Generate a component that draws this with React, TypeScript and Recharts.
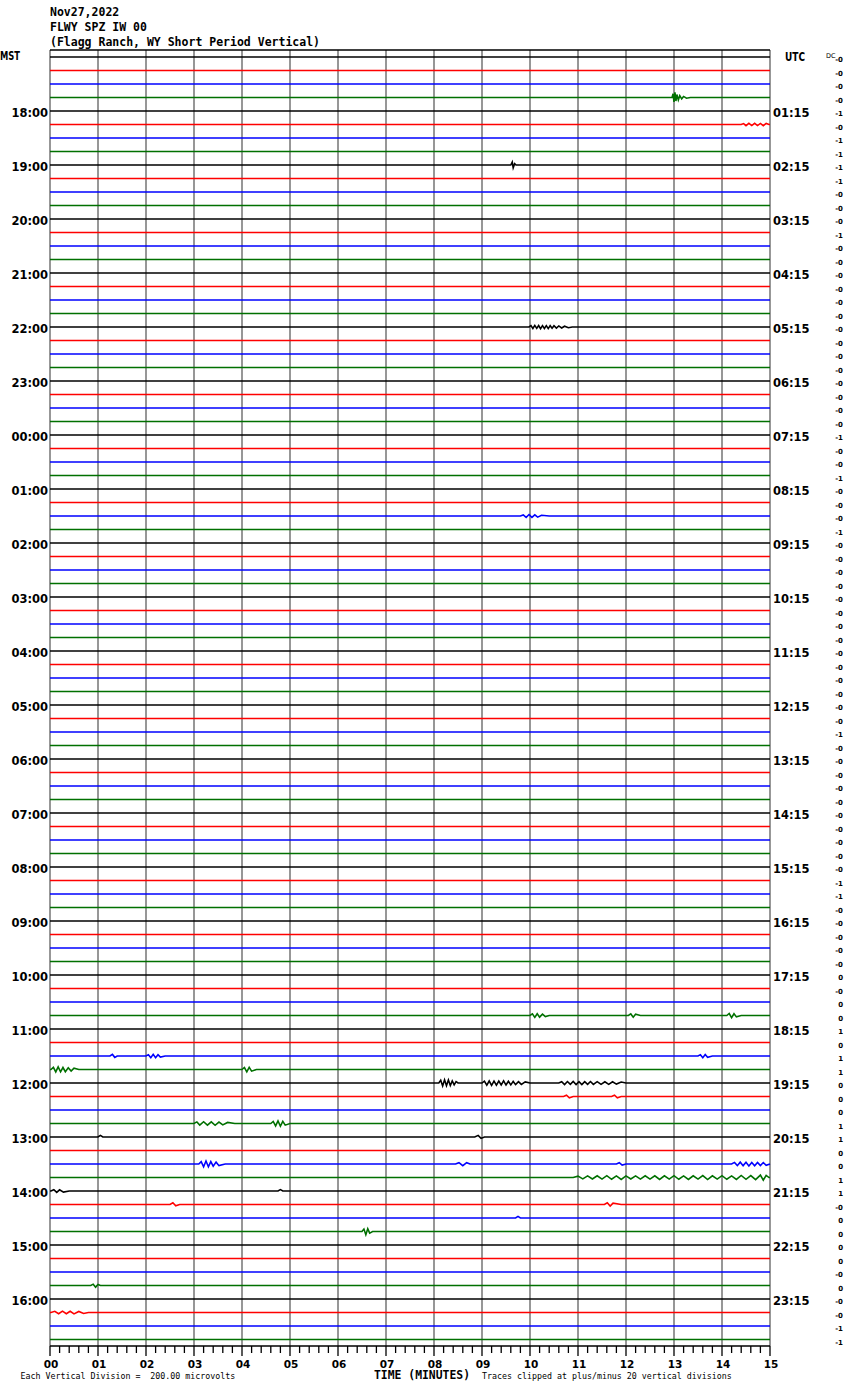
import { Line, LineChart, ReferenceLine, XAxis, YAxis } from "recharts";

// helicorder: 96 rows of 15 minutes, 24 h starting 17:00 MST
const TITLE_LINES = ["Nov27,2022", "FLWY SPZ IW 00", "(Flagg Ranch, WY Short Period Vertical)"];

const MST_LABELS = [
  "MST", "18:00", "19:00", "20:00", "21:00", "22:00", "23:00", "00:00", "01:00", "02:00", "03:00", "04:00",
  "05:00", "06:00", "07:00", "08:00", "09:00", "10:00", "11:00", "12:00", "13:00", "14:00", "15:00", "16:00",
];

const UTC_LABELS = [
  "UTC", "01:15", "02:15", "03:15", "04:15", "05:15", "06:15", "07:15", "08:15", "09:15", "10:15", "11:15",
  "12:15", "13:15", "14:15", "15:15", "16:15", "17:15", "18:15", "19:15", "20:15", "21:15", "22:15", "23:15",
];

// DC offsets printed on the far right, one per row
const DC_VALUES = [
  "-0", "-0", "-0", "-0", "-1", "-0", "-1", "-1", "-1", "-1", "-0", "-0",
  "-0", "-1", "-0", "-0", "-0", "-0", "-0", "-0", "-0", "-0", "-0", "-0",
  "-0", "-0", "-0", "-0", "-1", "-0", "-0", "-1", "-0", "-0", "-0", "-1",
  "-0", "-0", "-0", "-0", "-0", "-0", "-0", "-0", "-0", "-0", "-0", "-0",
  "-0", "-0", "-1", "-0", "-0", "-0", "-0", "-0", "-0", "-0", "-0", "-0",
  "-0", "-1", "-1", "-0", "-0", "-0", "-0", "-0", "0", "-0", "0", "0",
  "1", "0", "1", "1", "0", "0", "0", "1", "1", "0", "0", "1",
  "1", "-0", "0", "0", "0", "0", "-0", "0", "-0", "-0", "-1", "-1",
];

const MINUTE_LABELS = ["00", "01", "02", "03", "04", "05", "06", "07", "08", "09", "10", "11", "12", "13", "14", "15"];

const TRACE_COLORS = ["#000000", "#ff0000", "#0000ff", "#007000"];

// visible wiggles: [minute, amplitude in vertical rows]
const EVENTS: { row: number; points: [number, number][] }[] = [
  { row: 3, points: [[12.96, 0], [12.98, 0.28], [13.0, -0.32], [13.02, 0.38], [13.04, -0.26], [13.06, 0.22], [13.09, -0.18], [13.12, 0.14], [13.16, -0.1], [13.2, 0.08], [13.26, -0.05], [13.34, 0]] },
  { row: 5, points: [[14.4, 0], [14.45, 0.07], [14.5, -0.08], [14.56, 0.09], [14.62, -0.08], [14.68, 0.09], [14.74, -0.08], [14.8, 0.08], [14.86, -0.09], [14.92, 0.08], [14.98, 0]] },
  { row: 8, points: [[9.6, 0], [9.63, 0.22], [9.65, -0.2], [9.68, 0.1], [9.71, 0]] },
  { row: 20, points: [[9.98, 0], [10.02, 0.1], [10.06, -0.11], [10.1, 0.12], [10.14, -0.1], [10.18, 0.11], [10.22, -0.12], [10.26, 0.1], [10.3, -0.11], [10.34, 0.1], [10.38, -0.12], [10.42, 0.1], [10.46, -0.09], [10.5, 0.1], [10.55, -0.08], [10.6, 0.08], [10.66, -0.07], [10.72, 0.06], [10.8, -0.05], [10.88, 0]] },
  { row: 34, points: [[9.8, 0], [9.86, 0.08], [9.92, -0.1], [9.98, 0.11], [10.04, -0.1], [10.1, 0.09], [10.16, -0.08], [10.24, 0.06], [10.4, 0]] },
  { row: 71, points: [[10.0, 0], [10.05, 0.12], [10.1, -0.14], [10.15, 0.13], [10.2, -0.12], [10.26, 0.1], [10.32, -0.08], [10.4, 0]] },
  { row: 71, points: [[12.05, 0], [12.1, 0.12], [12.15, -0.12], [12.2, 0.1], [12.3, 0]] },
  { row: 71, points: [[14.1, 0], [14.15, 0.15], [14.2, -0.16], [14.25, 0.13], [14.3, -0.1], [14.4, 0]] },
  { row: 74, points: [[1.25, 0], [1.3, 0.12], [1.35, -0.1], [1.4, 0]] },
  { row: 74, points: [[2.0, 0], [2.05, 0.1], [2.1, -0.12], [2.15, 0.13], [2.2, -0.12], [2.25, 0.1], [2.3, -0.08], [2.4, 0]] },
  { row: 74, points: [[13.5, 0], [13.55, 0.1], [13.6, -0.12], [13.65, 0.11], [13.7, -0.1], [13.8, 0]] },
  { row: 75, points: [[0.02, 0], [0.07, 0.16], [0.12, -0.18], [0.17, 0.2], [0.22, -0.17], [0.27, 0.15], [0.32, -0.16], [0.38, 0.13], [0.44, -0.12], [0.5, 0.1], [0.6, 0]] },
  { row: 75, points: [[4.0, 0], [4.05, 0.15], [4.1, -0.17], [4.15, 0.16], [4.2, -0.12], [4.3, 0]] },
  { row: 76, points: [[8.1, 0], [8.14, 0.2], [8.18, -0.22], [8.22, 0.24], [8.26, -0.2], [8.3, 0.22], [8.34, -0.18], [8.38, 0.16], [8.42, -0.14], [8.46, 0.1], [8.5, 0]] },
  { row: 76, points: [[9.0, 0], [9.05, 0.14], [9.1, -0.16], [9.15, 0.15], [9.2, -0.17], [9.25, 0.14], [9.3, -0.16], [9.35, 0.15], [9.4, -0.14], [9.45, 0.16], [9.5, -0.15], [9.55, 0.13], [9.6, -0.14], [9.65, 0.12], [9.7, -0.12], [9.76, 0.1], [9.82, -0.1], [9.9, 0.08], [10.0, 0]] },
  { row: 76, points: [[10.6, 0], [10.66, 0.1], [10.72, -0.12], [10.78, 0.11], [10.84, -0.1], [10.9, 0.12], [10.96, -0.11], [11.02, 0.1], [11.08, -0.12], [11.14, 0.1], [11.2, -0.1], [11.26, 0.11], [11.32, -0.1], [11.4, 0.1], [11.48, -0.1], [11.56, 0.09], [11.64, -0.1], [11.72, 0.09], [11.8, -0.08], [11.9, 0.07], [12.0, 0]] },
  { row: 77, points: [[10.7, 0], [10.76, 0.1], [10.82, -0.1], [10.9, 0]] },
  { row: 77, points: [[11.7, 0], [11.76, 0.1], [11.82, -0.1], [11.9, 0]] },
  { row: 79, points: [[3.0, 0], [3.06, 0.12], [3.12, -0.12], [3.2, 0.13], [3.28, -0.12], [3.36, 0.12], [3.44, -0.13], [3.52, 0.11], [3.6, -0.1], [3.7, 0.08], [3.85, 0]] },
  { row: 79, points: [[4.6, 0], [4.65, 0.15], [4.7, -0.18], [4.75, 0.2], [4.8, -0.2], [4.85, 0.16], [4.9, -0.12], [5.0, 0]] },
  { row: 80, points: [[1.0, 0], [1.05, 0.12], [1.1, 0]] },
  { row: 80, points: [[8.85, 0], [8.92, 0.12], [8.98, -0.1], [9.05, 0]] },
  { row: 82, points: [[3.1, 0], [3.15, 0.18], [3.2, -0.2], [3.25, 0.22], [3.3, -0.2], [3.35, 0.18], [3.4, -0.16], [3.46, 0.14], [3.52, -0.12], [3.65, 0]] },
  { row: 82, points: [[8.45, 0], [8.52, 0.1], [8.6, -0.12], [8.68, 0.1], [8.75, 0]] },
  { row: 82, points: [[11.8, 0], [11.86, 0.1], [11.92, -0.08], [12.0, 0]] },
  { row: 82, points: [[14.2, 0], [14.26, 0.12], [14.32, -0.12], [14.38, 0.14], [14.44, -0.12], [14.5, 0.13], [14.56, -0.14], [14.62, 0.12], [14.68, -0.13], [14.74, 0.12], [14.8, -0.12], [14.86, 0.11], [14.92, -0.1], [15.0, 0]] },
  { row: 83, points: [[10.9, 0], [11.0, 0.1], [11.1, -0.1], [11.2, 0.12], [11.3, -0.11], [11.4, 0.13], [11.5, -0.12], [11.6, 0.14], [11.7, -0.13], [11.8, 0.12], [11.9, -0.14], [12.0, 0.12], [12.1, -0.11], [12.2, 0.12], [12.3, -0.12], [12.4, 0.13], [12.5, -0.12], [12.6, 0.13], [12.7, -0.14], [12.8, 0.13], [12.9, -0.12], [13.0, 0.14], [13.1, -0.13], [13.2, 0.12], [13.3, -0.14], [13.4, 0.13], [13.5, -0.12], [13.6, 0.14], [13.7, -0.15], [13.8, 0.13], [13.9, -0.12], [14.0, 0.14], [14.1, -0.13], [14.2, 0.12], [14.3, -0.14], [14.4, 0.15], [14.5, -0.13], [14.6, 0.14], [14.7, -0.16], [14.8, 0.18], [14.86, -0.2], [14.92, 0.16], [14.98, 0]] },
  { row: 84, points: [[0.02, 0], [0.08, 0.1], [0.14, -0.1], [0.2, 0.09], [0.28, -0.08], [0.4, 0]] },
  { row: 84, points: [[4.75, 0], [4.8, 0.1], [4.85, 0]] },
  { row: 85, points: [[2.5, 0], [2.56, 0.13], [2.62, -0.1], [2.7, 0]] },
  { row: 85, points: [[11.55, 0], [11.61, 0.13], [11.67, -0.12], [11.73, 0.1], [11.9, 0]] },
  { row: 86, points: [[9.7, 0], [9.75, 0.12], [9.8, 0]] },
  { row: 87, points: [[6.5, 0], [6.54, 0.18], [6.58, -0.24], [6.62, 0.2], [6.66, -0.12], [6.72, 0]] },
  { row: 91, points: [[0.85, 0], [0.9, 0.1], [0.95, -0.12], [1.0, 0.08], [1.05, 0]] },
  { row: 93, points: [[0.02, 0], [0.1, 0.09], [0.18, -0.09], [0.26, 0.1], [0.34, -0.09], [0.42, 0.09], [0.5, -0.1], [0.6, 0.08], [0.7, -0.07], [0.8, 0]] },
];

const ROW_COUNT = 96;
const ROWS = Array.from({ length: ROW_COUNT }, (_, r) => r);
const HOUR_ROWS = ROWS.filter((r) => r % 4 === 0);
const MINOR_TICKS = Array.from({ length: 76 }, (_, i) => i / 5);
const AXIS_Y = 1346;

const monoFont = "'DejaVu Sans Mono', monospace";
const labelFont = "'DejaVu Sans', sans-serif";

function traceData(row: number) {
  const pts = [{ t: 0, v: row }];
  EVENTS.filter((e) => e.row === row).forEach((e) =>
    e.points.forEach(([t, a]) => pts.push({ t, v: row - a }))
  );
  pts.push({ t: 15, v: row });
  return pts.sort((a, b) => a.t - b.t);
}

function HourTick({ y, payload }: any) {
  const row = payload.value;
  if (row === 0) {
    return (
      <text x={0} y={y + 3} fontFamily={labelFont} fontWeight="bold" fontSize={11.5} textLength={20} lengthAdjust="spacingAndGlyphs" fill="#000">
        MST
      </text>
    );
  }
  return (
    <text x={48} y={y + 5.5} textAnchor="end" fontFamily={labelFont} fontWeight="bold" fontSize={11.5} fill="#000">
      {MST_LABELS[row / 4]}
    </text>
  );
}

function UtcTick({ y, payload }: any) {
  const row = payload.value;
  return (
    <g>
      {row === 0 && (
        <>
          <text x={785} y={y + 3.7} fontFamily={labelFont} fontWeight="bold" fontSize={11.5} textLength={20} lengthAdjust="spacingAndGlyphs" fill="#000">
            UTC
          </text>
          <text x={826} y={y + 0.5} fontFamily={labelFont} fontSize={6.5} fill="#000">
            DC
          </text>
        </>
      )}
      {row > 0 && row % 4 === 0 && (
        <text x={773} y={y + 5.5} fontFamily={labelFont} fontWeight="bold" fontSize={11.5} fill="#000">
          {UTC_LABELS[row / 4]}
        </text>
      )}
      <text x={843} y={y + 5} textAnchor="end" fontFamily={labelFont} fontWeight="bold" fontSize={7} fill="#000">
        {DC_VALUES[row]}
      </text>
    </g>
  );
}

function MinuteTick({ x, payload }: any) {
  const v = payload.value;
  const major = Math.abs(v - Math.round(v)) < 1e-6;
  return (
    <g>
      <line x1={x} y1={AXIS_Y} x2={x} y2={AXIS_Y + (major ? 10 : 7)} stroke="#000" strokeWidth={1.3} />
      {major && (
        <text x={x + 1} y={1367.5} textAnchor="middle" fontFamily={labelFont} fontWeight="bold" fontSize={10.5} fill="#000">
          {MINUTE_LABELS[Math.round(v)]}
        </text>
      )}
    </g>
  );
}

export default function App() {
  return (
    <div style={{ position: "absolute", left: 0, top: 0, width: 850, height: 1390, background: "#fff" }}>
      <LineChart width={850} height={1390} margin={{ top: 50, right: 0, bottom: 14, left: 0 }}>
        <XAxis
          type="number"
          dataKey="t"
          domain={[0, 15]}
          ticks={MINOR_TICKS}
          interval={0}
          height={30}
          tickLine={false}
          axisLine={{ stroke: "#000", strokeWidth: 1.5 }}
          tick={<MinuteTick />}
        />
        <YAxis
          yAxisId="left"
          orientation="left"
          type="number"
          width={50}
          domain={[-0.52, 95.48]}
          reversed
          allowDataOverflow
          ticks={HOUR_ROWS}
          interval={0}
          axisLine={false}
          tickLine={false}
          tick={<HourTick />}
        />
        <YAxis
          yAxisId="right"
          orientation="right"
          type="number"
          width={80}
          domain={[-0.52, 95.48]}
          reversed
          allowDataOverflow
          ticks={ROWS}
          interval={0}
          axisLine={false}
          tickLine={false}
          tick={<UtcTick />}
        />
        {MINUTE_LABELS.map((_, m) => (
          <ReferenceLine key={`g${m}`} yAxisId="left" x={m} stroke="#8c8c8c" strokeWidth={1.8} />
        ))}
        <ReferenceLine yAxisId="left" y={-0.52} stroke="#000" strokeWidth={1.5} />
        {ROWS.map((r) => (
          <Line
            key={r}
            yAxisId="left"
            data={traceData(r)}
            dataKey="v"
            type="linear"
            stroke={TRACE_COLORS[r % 4]}
            strokeWidth={1.6}
            dot={false}
            activeDot={false}
            isAnimationActive={false}
          />
        ))}
      </LineChart>
      <svg width={850} height={1390} style={{ position: "absolute", left: 0, top: 0, pointerEvents: "none" }}>
        {TITLE_LINES.map((line, i) => (
          <text key={line} x={50} y={[16, 31, 45.7][i]} fontFamily={monoFont} fontWeight="bold" fontSize={11.5} fill="#000">
            {line}
          </text>
        ))}
        <text x={20.5} y={1379.3} fontFamily={monoFont} fontSize={8.3} fill="#000" xmlSpace="preserve">
          Each Vertical Division =  200.00 microvolts
        </text>
        <text x={374} y={1378.8} fontFamily={monoFont} fontWeight="bold" fontSize={11.4} fill="#000">
          TIME (MINUTES)
        </text>
        <text x={482} y={1379.3} fontFamily={monoFont} fontSize={8.3} fill="#000">
          Traces clipped at plus/minus 20 vertical divisions
        </text>
      </svg>
    </div>
  );
}
